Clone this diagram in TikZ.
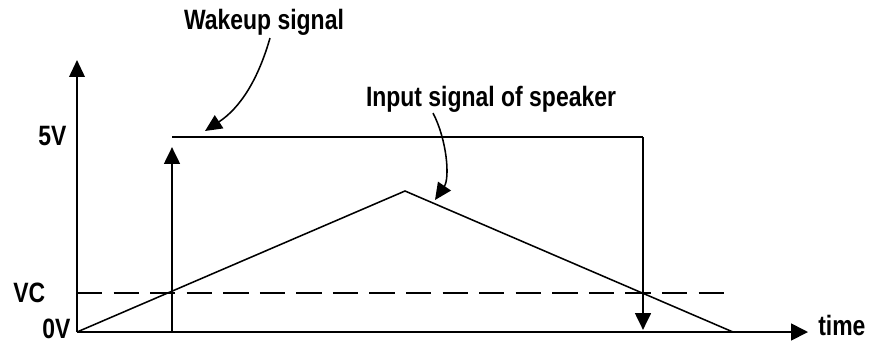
\documentclass[tikz,border=0pt]{standalone}
\usepackage{fontspec}
\setmainfont{Liberation Sans}[FakeStretch=0.82]
\usepackage{tikz}
\usetikzlibrary{arrows.meta}
\usepackage{xcolor}

\begin{document}
\begin{tikzpicture}[x=0.025cm, y=-0.025cm,
		lbl/.style={inner sep=0pt, font=\fontsize{19.9}{24}\selectfont\bfseries},
		tip/.style={-{Triangle[length=12pt, width=11pt]}},
		wake/.style={black, line width=2.1pt},
		thin/.style={black, line width=1.1pt}]
			    		\useasboundingbox (0, 0) rectangle (880, 345);
			    		\coordinate (o) at (77, 332);
			    		\draw[black, line width=1.4pt, tip] (o)--(77, 60);
			    		\draw[black, line width=1.2pt, -{Triangle[length=12pt, width=12pt]}] (o)--(808, 332);
			    		\draw[black, line width=1.5pt, dash pattern=on 18 off 8] (77, 293)--(733, 293);
			    		% wakeup signal
			    		\draw[wake] (o)--(172, 332);
			    		\draw[wake, tip] (172, 332)--(172, 147);
			    		\draw[wake] (172, 137)--(643, 137);
			    		\draw[wake, tip] (643, 137)--(643, 330);
			    		% input signal of speaker
			    		\coordinate (peak) at (405, 191);
			    		\draw[thin] (o)--(peak)--(733, 332);
						\node[lbl, anchor=base] (wakelbl) at (264, 29) {Wakeup signal};
						\node[lbl, anchor=base] (inlbl) at (491, 106) {Input signal of speaker};
						\draw[thin, tip] (270, 38) .. controls (258, 80) and (240, 108) .. (205, 131);
						\draw[thin, tip] (433, 113) .. controls (447, 140) and (450, 178) .. (435, 200);
						\node[lbl, anchor=base west] (fivev) at (38, 145) {5V};
						\node[lbl, anchor=base west] (vc) at (13, 302) {VC};
						\node[lbl, anchor=base west] (zerov) at (42, 338) {0V};
						\node[lbl, anchor=base west] (time) at (818, 335) {time};
			    	\end{tikzpicture}
\end{document}
